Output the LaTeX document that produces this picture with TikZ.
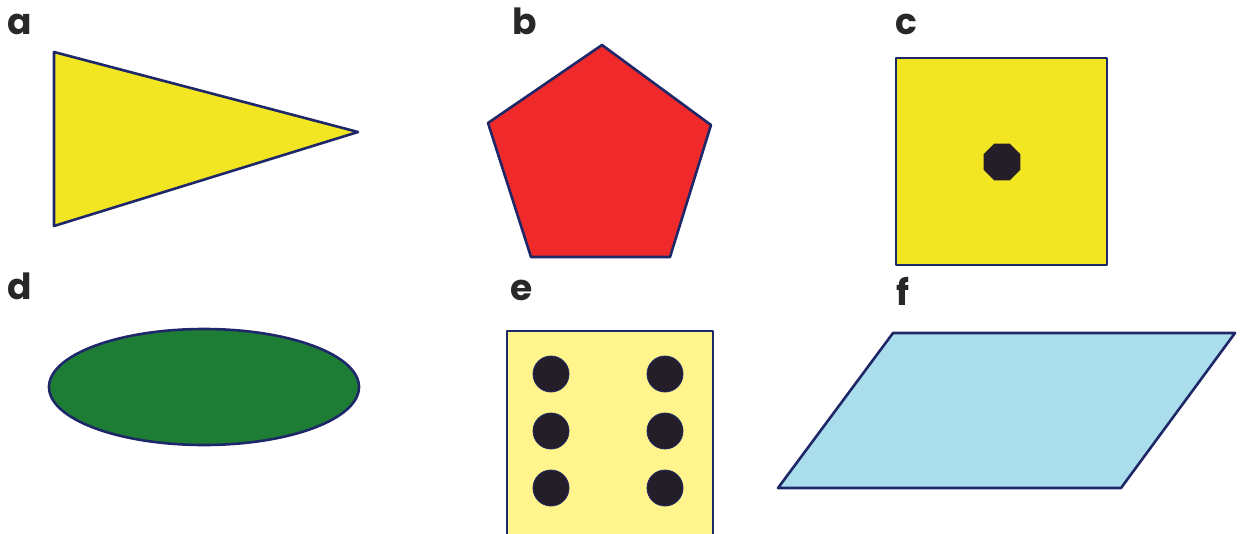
\documentclass[tikz,border=0pt]{standalone}
\usepackage{fontspec}
\setmainfont{Poppins}
\definecolor{outl}{RGB}{30,40,105}
\definecolor{yel}{RGB}{242,230,35}
\definecolor{redf}{RGB}{240,42,42}
\definecolor{grn}{RGB}{30,125,52}
\definecolor{lblue}{RGB}{170,222,236}
\definecolor{lyel}{RGB}{255,245,140}
\definecolor{dotc}{RGB}{35,30,40}
\definecolor{txt}{RGB}{40,40,40}
\tikzset{
  shp/.style={draw=outl, line width=2.6pt, line join=round},
  lbl/.style={anchor=base west, inner sep=0pt, text=txt, font=\fontsize{36}{40}\selectfont\bfseries},
  dot/.style={fill=dotc, draw=outl, line width=0.8pt}
}
\begin{document}
\begin{tikzpicture}[x=1pt,y=-1pt]
\useasboundingbox (0,0) rectangle (1246,533);
% labels
\node[lbl] (la) at (7,34) {a};
\node[lbl] (lb) at (512,34) {b};
\node[lbl] (lc) at (895,34) {c};
\node[lbl] (ld) at (7,299) {d};
\node[lbl] (le) at (510,300) {e};
\node[lbl] (lf) at (896,305) {f};
% a triangle
\draw[shp, fill=yel] (54,52) -- (358,132) -- (54,226) -- cycle;
% b pentagon
\draw[shp, fill=redf] (602,45) -- (711,125) -- (670,257) -- (531,257) -- (488,123) -- cycle;
% c square with octagon
\draw[shp, fill=yel] (896,58) rectangle (1107,265);
\fill[dotc] (1002,162) +(22.5:20) -- +(67.5:20) -- +(112.5:20) -- +(157.5:20) -- +(202.5:20) -- +(247.5:20) -- +(292.5:20) -- +(337.5:20) -- cycle;
% d ellipse
\draw[shp, fill=grn] (204,387) ellipse [x radius=155, y radius=58];
% e rectangle with dots
\draw[shp, fill=lyel] (507,545) -- (507,331) -- (713,331) -- (713,545);
\foreach \y in {374,431,488}{
  \draw[dot] (551,\y) circle (18);
  \draw[dot] (665,\y) circle (18);
}
% f parallelogram
\draw[shp, fill=lblue] (893,333) -- (1235,333) -- (1121,488) -- (778,488) -- cycle;
\end{tikzpicture}
\end{document}
